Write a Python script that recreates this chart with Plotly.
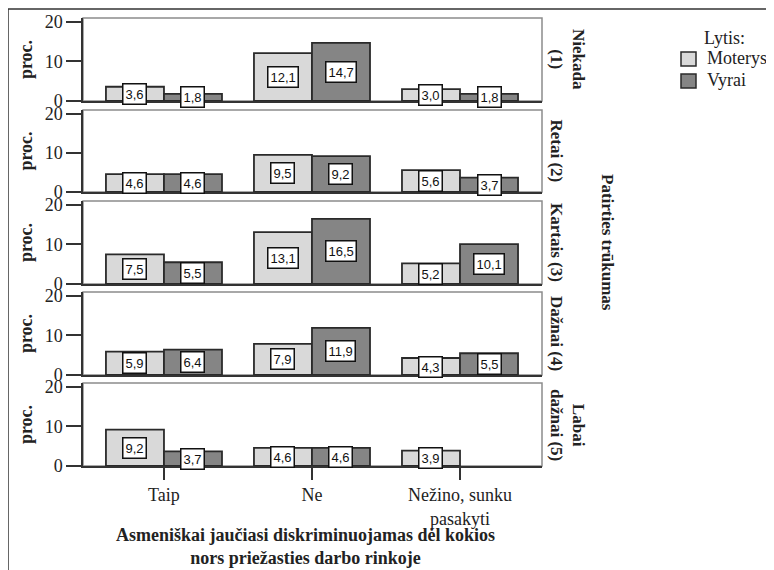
import plotly.graph_objects as go

# ---- data ----
categories = ["Taip", "Ne", "Nežino, sunku<br>pasakyti"]
panels = ["Niekada<br>(1)", "Retai (2)", "Kartais (3)", "Dažnai (4)", "Labai<br>dažnai (5)"]
moterys = [
    [3.6, 12.1, 3.0],
    [4.6, 9.5, 5.6],
    [7.5, 13.1, 5.2],
    [5.9, 7.9, 4.3],
    [9.2, 4.6, 3.9],
]
vyrai = [
    [1.8, 14.7, 1.8],
    [4.6, 9.2, 3.7],
    [5.5, 16.5, 10.1],
    [6.4, 11.9, 5.5],
    [3.7, 4.6, None],
]
series_names = ["Moterys", "Vyrai"]
y_ticks = [0, 10, 20]
legend_title = "Lytis:"
facet_title = "Patirties trūkumas"
y_title = "proc."
x_title = "Asmeniškai jaučiasi diskriminuojamas dėl kokios<br>nors priežasties darbo rinkoje"

# ---- style ----
W, H = 774, 570
OFF = 8  # page body margin shifts the figure by this many pixels
SERIF = "Liberation Serif"
SANS = "Liberation Sans"
colors = ["#d9d9d9", "#858585"]
edge = "#2a2a2a"


def px(x):
    return (x - OFF) / W


def py(y):
    return 1 - (y - OFF) / H


x_px = (83, 542)
panel_px = [(18, 101), (110, 192), (201, 284), (292, 375), (383, 466)]
bargap = 0.216
bar_w = (1 - bargap) / 2

fig = go.Figure()
annotations = []
shapes = []

for i in range(5):
    xa = "x" if i == 0 else f"x{i+1}"
    ya = "y" if i == 0 else f"y{i+1}"
    for s, (name, data) in enumerate(zip(series_names, [moterys, vyrai])):
        vals = data[i]
        fig.add_trace(go.Bar(
            x=categories, y=vals, name=name, xaxis=xa, yaxis=ya,
            marker=dict(color=colors[s], line=dict(color=edge, width=1.8)),
            showlegend=False, legendgroup=name, hoverinfo="skip",
        ))
        off = -bar_w / 2 if s == 0 else bar_w / 2
        for j, v in enumerate(vals):
            if v is None:
                continue
            annotations.append(dict(
                x=j + off, y=v / 2, xref=xa, yref=ya, showarrow=False,
                text=f"{v:.1f}".replace(".", ","),
                font=dict(family=SANS, size=13, color="#111"),
                bgcolor="white", bordercolor="#111", borderwidth=1.5, borderpad=2,
            ))
    top, bot = panel_px[i]
    dom_y = [py(bot), py(top)]
    last = (i == 4)
    fig.layout[("xaxis" if i == 0 else f"xaxis{i+1}")] = dict(
        domain=[px(x_px[0]), px(x_px[1])], anchor=ya, type="category",
        categoryorder="array", categoryarray=categories, automargin=False,
        range=[-0.547, 2.554], showline=True, linecolor="#333", linewidth=1.5,
        ticks="outside" if last else "", ticklen=12, tickcolor="#333", tickwidth=1.5,
        showticklabels=last, showgrid=False, zeroline=False,
        tickfont=dict(family=SERIF, size=18, color="#222"),
    )
    fig.layout[("yaxis" if i == 0 else f"yaxis{i+1}")] = dict(
        domain=dom_y, anchor=xa, range=[0, 21], tickvals=y_ticks, automargin=False,
        ticks="outside", ticklen=15, tickcolor="#333", tickwidth=1.5,
        showline=True, linecolor="#333", linewidth=1.5, showgrid=False, zeroline=False,
        tickfont=dict(family=SERIF, size=18, color="#222"),
        title=dict(text=f"<b>{y_title}</b>", font=dict(family=SERIF, size=18, color="#222"), standoff=7),
    )
    shapes.append(dict(type="rect", xref=f"{xa} domain", yref=f"{ya} domain",
                       x0=0, x1=1, y0=0, y1=1, line=dict(color="#8c8c8c", width=1.5), layer="below"))
    annotations.append(dict(
        x=px(545), y=py((top + bot) / 2), xref="paper", yref="paper",
        xanchor="left", yanchor="middle", showarrow=False, textangle=90,
        text=f"<b>{panels[i]}</b>", font=dict(family=SERIF, size=17, color="#222"),
    ))

annotations.append(dict(
    x=px(607), y=py(242), xref="paper", yref="paper", xanchor="center", yanchor="middle",
    showarrow=False, textangle=90, text=f"<b>{facet_title}</b>",
    font=dict(family=SERIF, size=17, color="#222"),
))
annotations.append(dict(
    x=px(305), y=py(546), xref="paper", yref="paper", xanchor="center", yanchor="middle",
    showarrow=False, text=f"<b>{x_title}</b>",
    font=dict(family=SERIF, size=18, color="#222"),
))

# legend (manual)
annotations.append(dict(
    x=px(702), y=py(38), xref="paper", yref="paper", xanchor="left", yanchor="middle",
    showarrow=False, text=legend_title, font=dict(family=SERIF, size=18, color="#222"),
))
for s, name in enumerate(series_names):
    cy = 59 + 22 * s
    shapes.append(dict(type="rect", xref="paper", yref="paper",
                       x0=px(681), x1=px(696), y0=py(cy + 7), y1=py(cy - 7),
                       fillcolor=colors[s], line=dict(color=edge, width=1.5)))
    annotations.append(dict(
        x=px(705), y=py(cy - 1), xref="paper", yref="paper", xanchor="left", yanchor="middle",
        showarrow=False, text=name, font=dict(family=SERIF, size=18, color="#222"),
    ))

# outer frame
shapes.append(dict(type="line", xref="paper", yref="paper", x0=px(8), x1=1, y0=py(9), y1=py(9),
                   line=dict(color="#333", width=1.5)))
shapes.append(dict(type="line", xref="paper", yref="paper", x0=px(8), x1=px(8), y0=0, y1=py(9),
                   line=dict(color="#333", width=1.5)))

fig.update_layout(
    template="none",
    width=W, height=H, margin=dict(l=0, r=0, t=0, b=0),
    paper_bgcolor="white", plot_bgcolor="white",
    barmode="group", bargap=bargap, bargroupgap=0,
    annotations=annotations, shapes=shapes, showlegend=False,
    font=dict(family=SERIF, color="#222"),
)

fig.write_html("out.html")
